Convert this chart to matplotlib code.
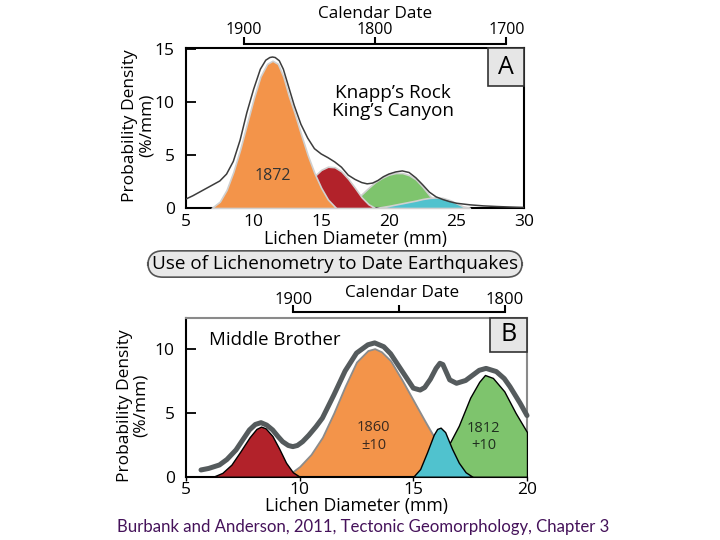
import matplotlib
matplotlib.use('Agg')
import matplotlib.pyplot as plt
from matplotlib.patches import Rectangle

plt.rcParams['font.family'] = ['Open Sans', 'DejaVu Sans']

# ---- Panel A: Knapp's Rock, King's Canyon ----
env_a_x = [5, 5.5, 6, 6.5, 7, 7.5, 8, 8.5, 9, 9.5, 10, 10.5, 10.9, 11.2, 11.4, 11.6,
           11.9, 12.2, 12.6, 13, 13.5, 14, 14.5, 15, 15.5, 16, 16.5, 17, 17.5, 18,
           18.4, 18.8, 19.2, 19.6, 20, 20.5, 21, 21.5, 22, 22.5, 23, 23.5, 24, 24.5,
           25, 26, 27, 28, 29, 30]
env_a_y = [0.85, 1.15, 1.5, 1.85, 2.2, 2.55, 3.2, 4.4, 6.4, 9.0, 11.2, 13.1, 13.95,
           14.2, 14.25, 14.2, 13.9, 13.1, 11.4, 9.7, 7.9, 6.6, 5.6, 5.1, 4.75, 4.35,
           3.85, 3.1, 2.7, 2.4, 2.28, 2.35, 2.6, 2.95, 3.2, 3.4, 3.5, 3.35, 2.85, 2.2,
           1.5, 1.05, 0.8, 0.6, 0.45, 0.3, 0.2, 0.14, 0.09, 0.05]

org_a_x = [6.9, 7.5, 8, 8.5, 9, 9.5, 10, 10.5, 11, 11.4, 11.8, 12.2, 12.6, 13, 13.5,
           14, 14.5, 15, 15.5, 16.1]
org_a_y = [0, 0.6, 1.7, 3.4, 5.5, 7.9, 10.3, 12.4, 13.6, 13.9, 13.6, 12.4, 10.6, 9.1,
           7.0, 5.0, 3.3, 1.9, 0.8, 0]

red_a_x = [12.5, 13, 13.5, 14, 14.5, 15, 15.5, 16, 16.5, 17, 17.5, 18, 18.5, 19]
red_a_y = [0, 0.5, 1.2, 2.1, 3.0, 3.6, 3.9, 3.85, 3.45, 2.75, 1.9, 1.0, 0.35, 0]

grn_a_x = [16.5, 17, 17.5, 18, 18.5, 19, 19.5, 20, 20.5, 21, 21.5, 22, 22.5, 23,
           23.5, 24]
grn_a_y = [0, 0.3, 0.75, 1.3, 1.9, 2.45, 2.85, 3.15, 3.3, 3.3, 3.1, 2.7, 2.0, 1.2,
           0.5, 0]

cyn_a_x = [19, 20, 21, 22, 22.5, 23, 23.5, 24, 24.5, 25, 25.5, 26]
cyn_a_y = [0, 0.2, 0.45, 0.7, 0.85, 0.95, 1.0, 0.95, 0.75, 0.45, 0.15, 0]

cal_a_years = [1900, 1800, 1700]
cal_a_anchor = [(9.3, 1900), (19.0, 1800)]

# ---- Panel B: Middle Brother ----
env_b_x = [5.66, 6.0, 6.47, 6.8, 7.2, 7.5, 7.79, 8.05, 8.3, 8.55, 8.81, 9.05, 9.25,
           9.5, 9.7, 9.9, 10.13, 10.4, 10.72, 11.0, 11.5, 12.0, 12.5, 13.0, 13.3,
           13.7, 14.0, 14.5, 15.0, 15.3, 15.5, 15.75, 16.0, 16.17, 16.3, 16.45, 16.6,
           16.9, 17.3, 17.9, 18.2, 18.65, 19.0, 19.25, 19.7, 20.0]
env_b_y = [0.53, 0.65, 0.92, 1.35, 2.1, 2.9, 3.67, 4.1, 4.24, 4.05, 3.67, 3.15, 2.75,
           2.45, 2.36, 2.45, 2.75, 3.25, 3.93, 4.6, 6.4, 8.3, 9.7, 10.35, 10.5, 10.2,
           9.65, 8.3, 6.95, 6.8, 7.0, 7.65, 8.5, 8.9, 8.8, 8.2, 7.6, 7.33, 7.55, 8.35,
           8.5, 8.25, 7.7, 7.07, 5.76, 4.8]

red_b_x = [6.2, 6.6, 7.0, 7.4, 7.8, 8.1, 8.3, 8.5, 8.8, 9.1, 9.4, 9.7, 10.0]
red_b_y = [0, 0.3, 0.95, 2.0, 3.1, 3.75, 3.93, 3.8, 3.2, 2.2, 1.1, 0.35, 0]

org_b_x = [9.3, 9.7, 10.0, 10.5, 11.0, 11.5, 12.0, 12.5, 13.0, 13.3, 13.6, 14.0,
           14.5, 15.0, 15.5, 16.0, 16.5, 17.0, 17.5, 17.9]
org_b_y = [0, 0.4, 0.8, 1.75, 3.1, 5.0, 7.1, 9.0, 9.9, 10.05, 9.8, 9.1, 7.6, 6.0,
           4.4, 2.85, 1.55, 0.4, 0.05, 0]

cyn_b_x = [15.0, 15.3, 15.6, 15.9, 16.05, 16.2, 16.4, 16.7, 17.0, 17.3, 17.6]
cyn_b_y = [0, 0.6, 1.9, 3.3, 3.75, 3.85, 3.5, 2.2, 1.1, 0.35, 0]

grn_b_x = [15.6, 16.0, 16.5, 17.0, 17.5, 17.9, 18.15, 18.5, 19.0, 19.5, 19.9, 20.0]
grn_b_y = [0, 0.8, 2.3, 4.0, 6.2, 7.45, 7.98, 7.75, 6.7, 5.0, 3.8, 3.5]

cal_b_years = [1900, 1850, 1800]
cal_b_labels = ['1900', '', '1800']
cal_b_anchor = [(9.72, 1900), (19.03, 1800)]

ORANGE = '#F3944A'
RED = '#B2222A'
GREEN = '#7EC46D'
CYAN = '#50C2CE'


def calendar_scale(anchor):
    (d0, y0), (d1, y1) = anchor
    slope = (y1 - y0) / (d1 - d0)
    return (lambda d: y0 + (d - d0) * slope), (lambda y: d0 + (y - y0) / slope)


def panel_letter(ax, letter, w, h):
    ax.add_patch(Rectangle((1 - w, 1 - h), w, h, transform=ax.transAxes,
                           facecolor='#e6e6e6', edgecolor='#333333', lw=1.2,
                           zorder=6, clip_on=False))
    ax.text(1 - w / 2, 1 - h / 2, letter, transform=ax.transAxes, ha='center',
            va='center', fontsize=18, zorder=7)


fig = plt.figure(figsize=(7.2, 5.4), dpi=100)

# ---------------- Panel A ----------------
axA = fig.add_axes([186 / 720, 1 - 208 / 540, 338 / 720, 160 / 540])
axA.set_xlim(5, 30)
axA.set_ylim(0, 15.1)
fill_kw = dict(edgecolor='#d0d0d0', linewidth=1.2)
axA.fill_between(grn_a_x, grn_a_y, color=GREEN, zorder=2, **fill_kw)
axA.fill_between(cyn_a_x, cyn_a_y, color=CYAN, zorder=3, **fill_kw)
axA.fill_between(red_a_x, red_a_y, color=RED, zorder=4, **fill_kw)
axA.fill_between(org_a_x, org_a_y, color=ORANGE, zorder=5, **fill_kw)
axA.plot(env_a_x, env_a_y, color='#3c3c3c', lw=1.1, zorder=6)
axA.text(11.45, 3.0, '1872', ha='center', va='center', fontsize=11.5,
         color='#333333', zorder=7)
axA.text(0.612, 0.66, 'Knapp\u2019s Rock\nKing\u2019s Canyon', transform=axA.transAxes,
         ha='center', va='center', fontsize=13.6, linespacing=1.0)
panel_letter(axA, 'A', 0.1065, 0.2375)

axA.set_xticks([5, 10, 15, 20, 25, 30])
axA.set_yticks([0, 5, 10, 15])
axA.tick_params(axis='y', direction='in', length=7, width=1.3, pad=8, labelsize=12.5)
axA.tick_params(axis='x', length=0, pad=4, labelsize=12.5)
for s in axA.spines.values():
    s.set_linewidth(1.5)
axA.set_xlabel('Lichen Diameter (mm)', fontsize=12.7, labelpad=0)
axA.set_ylabel('Probability Density\n(%/mm)', fontsize=12.5, linespacing=1.05)
axA.yaxis.set_label_coords(-0.092, 0.515)

fa, ia = calendar_scale(cal_a_anchor)
secA = axA.secondary_xaxis(1 + 3.5 / 160, functions=(fa, ia))
secA.set_xticks(cal_a_years)
secA.spines['top'].set_bounds(min(cal_a_years), max(cal_a_years))
secA.spines['top'].set_linewidth(1.5)
secA.tick_params(direction='out', length=5, width=1.5, pad=0, labelsize=11.5)
axA.text(0.559, 1.215, 'Calendar Date', transform=axA.transAxes, ha='center',
         va='center', fontsize=12.3)

# middle banner
fig.text(335 / 720, 1 - 264 / 540, 'Use of Lichenometry to Date Earthquakes',
         ha='center', va='center', fontsize=13.6,
         bbox=dict(boxstyle='round,pad=0.22,rounding_size=0.8', facecolor='#e8e8e8',
                   edgecolor='#555555', lw=1.2))

# ---------------- Panel B ----------------
axB = fig.add_axes([186 / 720, 1 - 476.7 / 540, 341 / 720, 158.4 / 540])
axB.set_xlim(5, 20)
axB.set_ylim(0, 12.43)
axB.fill_between(org_b_x, org_b_y, color=ORANGE, edgecolor='#8c8c8c', lw=1.3, zorder=2)
axB.fill_between(grn_b_x, grn_b_y, color=GREEN, edgecolor='black', lw=1.0, zorder=3)
axB.fill_between(red_b_x, red_b_y, color=RED, edgecolor='black', lw=1.0, zorder=4)
axB.fill_between(cyn_b_x, cyn_b_y, color=CYAN, edgecolor='black', lw=1.0, zorder=5)
axB.plot(env_b_x, env_b_y, color='#555b5d', lw=3.6, zorder=6,
         solid_capstyle='round', solid_joinstyle='round', clip_on=False)
axB.text(13.25, 3.15, '1860\n\u00b110', ha='center', va='center', fontsize=10.5,
         color='#3a2a20', zorder=7, linespacing=1.2)
axB.text(18.1, 3.1, '1812\n+10', ha='center', va='center', fontsize=10.5,
         color='#1f2f1f', zorder=7, linespacing=1.2)
axB.text(6.0, 10.75, 'Middle Brother', ha='left', va='center', fontsize=13.4)
panel_letter(axB, 'B', 0.1085, 0.21)

axB.set_xticks([5, 10, 15, 20])
axB.set_yticks([0, 5, 10])
axB.tick_params(axis='y', direction='in', length=7, width=1.3, pad=8, labelsize=12.5)
axB.tick_params(axis='x', direction='out', length=3, width=1.0, pad=1, labelsize=12.5)
for side in ['left', 'bottom']:
    axB.spines[side].set_linewidth(1.5)
for side in ['top', 'right']:
    axB.spines[side].set_color('#8a8a8a')
    axB.spines[side].set_linewidth(1.5)
axB.set_xlabel('Lichen Diameter (mm)', fontsize=12.7, labelpad=-1)
axB.set_ylabel('Probability Density\n(%/mm)', fontsize=12.5, linespacing=1.05)
axB.yaxis.set_label_coords(-0.108, 0.45)

fb, ib = calendar_scale(cal_b_anchor)
secB = axB.secondary_xaxis(1 + 6.6 / 158.4, functions=(fb, ib))
secB.set_xticks(cal_b_years, cal_b_labels)
secB.spines['top'].set_bounds(min(cal_b_years), max(cal_b_years))
secB.spines['top'].set_linewidth(1.5)
secB.tick_params(direction='out', length=5, width=1.5, pad=-2, labelsize=12)
axB.text(0.633, 1.16, 'Calendar Date', transform=axB.transAxes, ha='center',
         va='center', fontsize=12.3)

fig.text(117 / 720, 1 - 527 / 540,
         'Burbank and Anderson, 2011, Tectonic Geomorphology, Chapter 3',
         ha='left', va='center', fontsize=12.1, color='#45125a',
         family=['Lato', 'DejaVu Sans'])

fig.savefig('out.png', dpi=100, facecolor='white')
